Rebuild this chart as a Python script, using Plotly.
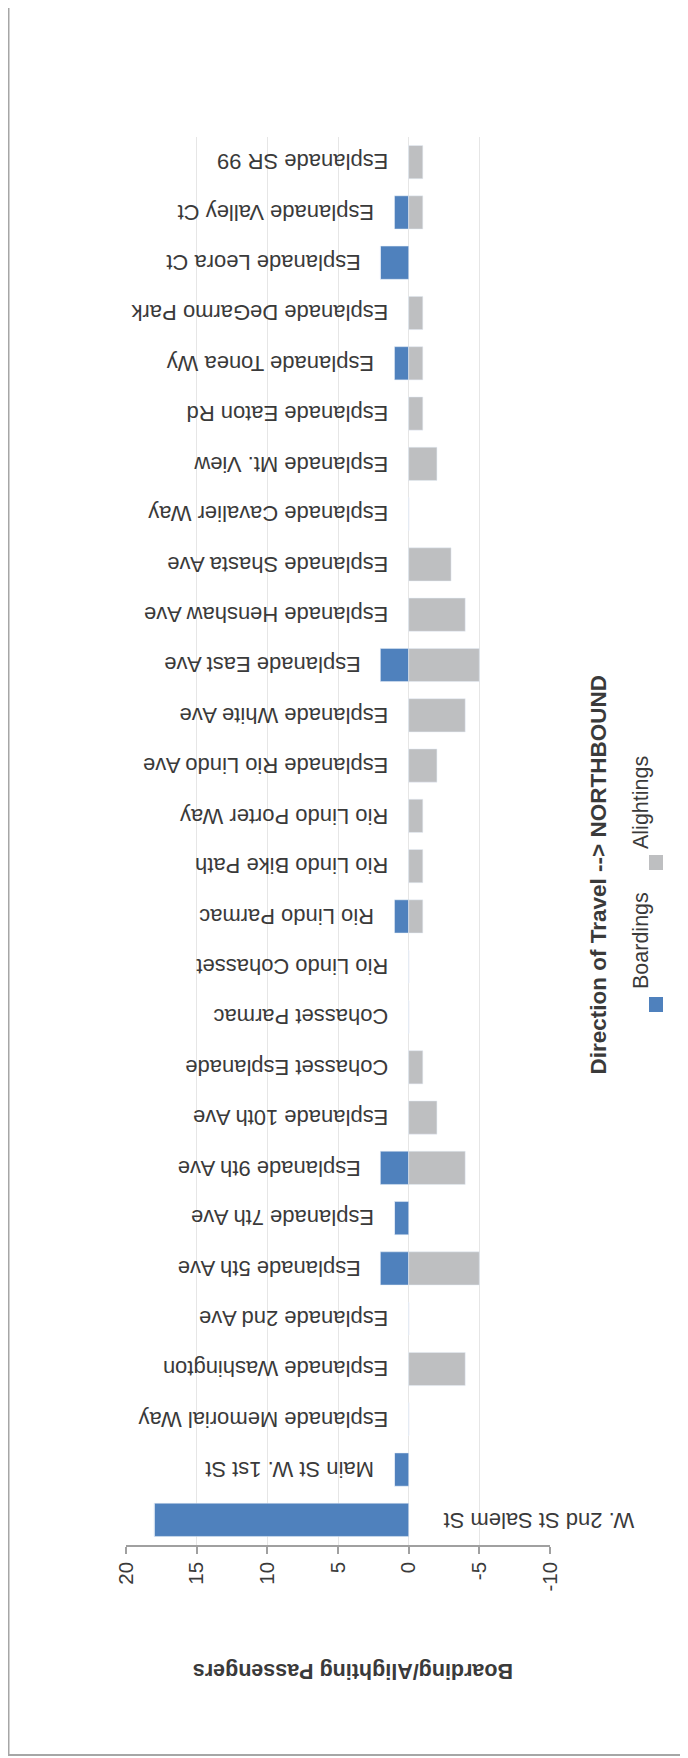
import plotly.graph_objects as go

# stops, bottom (first) to top (last) as drawn
stops = ["W. 2nd St Salem St", "Main St W. 1st St", "Esplanade Memorial Way",
         "Esplanade Washington", "Esplanade 2nd Ave", "Esplanade 5th Ave",
         "Esplanade 7th Ave", "Esplanade 9th Ave", "Esplanade 10th Ave",
         "Cohasset Esplanade", "Cohasset Parmac", "Rio Lindo Cohasset",
         "Rio Lindo Parmac", "Rio Lindo Bike Path", "Rio Lindo Porter Way",
         "Esplanade Rio Lindo Ave", "Esplanade White Ave", "Esplanade East Ave",
         "Esplanade Henshaw Ave", "Esplanade Shasta Ave", "Esplanade Cavalier Way",
         "Esplanade Mt. View", "Esplanade Eaton Rd", "Esplanade Tonea Wy",
         "Esplanade DeGarmo Park", "Esplanade Leora Ct", "Esplanade Valley Ct",
         "Esplanade SR 99"]
boardings = [18, 1, 0, 0, 0, 2, 1, 2, 0, 0, 0, 0, 1, 0, 0, 0, 0, 2, 0, 0, 0, 0, 0, 1, 0, 2, 1, 0]
alightings = [0, 0, 0, -4, 0, -5, 0, -4, -2, -1, 0, 0, -1, -1, -1, -2, -4, -5, -4, -3, 0, -2, -1, -1, -1, 0, -1, -1]
tick_vals = [20, 15, 10, 5, 0, -5, -10]
tick_text = ["20", "15", "10", "5", "0", "-5", "-10"]

FONT = "Liberation Sans, Arial, sans-serif"
BLUE = "#4F81BD"
GREY = "#BEBFC1"
TXT = "#3A3A3A"

W, H = 680, 1750      # page body adds 8px margin
OFF = 8
# plot area in page pixels: x 126..550, y 137..1545
L, R, T, B = 126 - OFF, 550 - OFF, 137 - OFF, 1545 - OFF

def px(x):
    return (x - OFF - L) / (R - L)

def py(y):
    return (B - (y - OFF)) / (B - T)

fig = go.Figure()
fig.add_trace(go.Bar(y=stops, x=boardings, orientation="h", name="Boardings",
                     marker_color=BLUE))
fig.add_trace(go.Bar(y=stops, x=alightings, orientation="h", name="Alightings",
                     marker_color=GREY))

# stop names sit upside down beside the boarding bar
for s, b in zip(stops, boardings):
    if b > 10:
        fig.add_annotation(x=0, y=s, xref="x", yref="y", text=s, showarrow=False,
                           textangle=180, xanchor="left", xshift=33,
                           font=dict(family=FONT, size=22, color=TXT))
    else:
        fig.add_annotation(x=b, y=s, xref="x", yref="y", text=s, showarrow=False,
                           textangle=180, xanchor="right", xshift=-18,
                           font=dict(family=FONT, size=22, color=TXT))

fig.add_annotation(x=px(353), y=py(1685), xref="paper", yref="paper",
                   text="<b>Boarding/Alighting Passengers</b>", showarrow=False,
                   textangle=180, font=dict(family=FONT, size=21.5, color=TXT))
fig.add_annotation(x=px(612), y=py(875), xref="paper", yref="paper",
                   text="<b>Direction of Travel --> NORTHBOUND</b>", showarrow=False,
                   textangle=-90, font=dict(family=FONT, size=22.5, color=TXT))
fig.add_annotation(x=px(655), y=py(941), xref="paper", yref="paper",
                   text="Boardings", showarrow=False,
                   textangle=-90, font=dict(family=FONT, size=21.5, color=TXT))
fig.add_annotation(x=px(655), y=py(803), xref="paper", yref="paper",
                   text="Alightings", showarrow=False,
                   textangle=-90, font=dict(family=FONT, size=21.5, color=TXT))

# legend swatches
fig.add_shape(type="rect", xref="paper", yref="paper", x0=px(649), x1=px(663),
              y0=py(1012), y1=py(997), fillcolor=BLUE, line_width=0)
fig.add_shape(type="rect", xref="paper", yref="paper", x0=px(649), x1=px(663),
              y0=py(870), y1=py(855), fillcolor=GREY, line_width=0)

# outer frame (left and bottom edges)
fig.add_shape(type="line", xref="paper", yref="paper", x0=px(8.5), x1=px(8.5),
              y0=py(0), y1=py(1755), line=dict(color="#A6A6A6", width=2))
fig.add_shape(type="line", xref="paper", yref="paper", x0=px(8), x1=px(700),
              y0=py(1755), y1=py(1755), line=dict(color="#A6A6A6", width=2))

fig.update_layout(
    width=W, height=H,
    margin=dict(l=L, r=W - R, t=T, b=H - B),
    barmode="relative", bargap=0.34,
    showlegend=False,
    plot_bgcolor="white", paper_bgcolor="white",
    font=dict(family=FONT, size=20, color=TXT),
)
fig.update_xaxes(range=[20, -10], tickvals=tick_vals, ticktext=tick_text, tickangle=-90,
                 showgrid=True, gridcolor="#E6E6E6", gridwidth=1, zeroline=False,
                 showline=True, linecolor="#A0A0A0", linewidth=1.5,
                 ticks="outside", ticklen=7, tickcolor="#A0A0A0", tickwidth=1.5,
                 tickfont=dict(family=FONT, size=20.5, color=TXT))
fig.update_yaxes(showticklabels=False, showgrid=False, zeroline=False,
                 showline=False, ticks="")

fig.write_html("out.html")
